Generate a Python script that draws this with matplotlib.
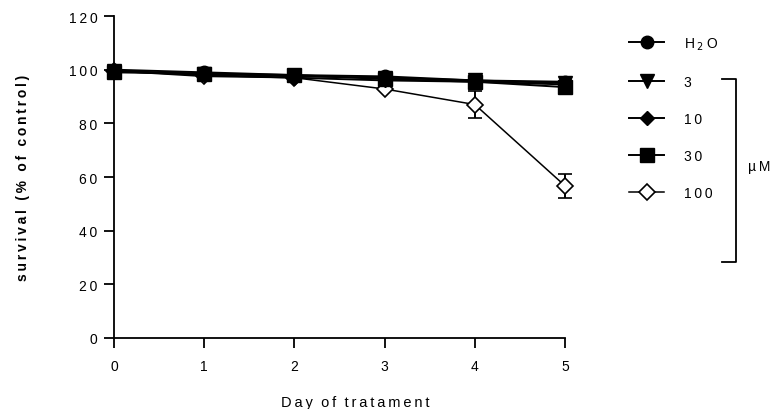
import matplotlib
matplotlib.use("Agg")
import matplotlib.pyplot as plt
from matplotlib.lines import Line2D

plt.rcParams["font.family"] = ["Liberation Sans", "DejaVu Sans"]

days = [0, 1, 2, 3, 4, 5]
labels = ["H\u2009$_2$\u2009O", "3", "10", "30", "100"]
h2o = [100, 99, 98, 97.5, 96, 95.5]
c3 = [99.5, 98.5, 97.5, 97, 96, 95]
c10 = [99.5, 98, 97, 96, 95.5, 94.5]
c30 = [99, 98.5, 98, 96.5, 95.5, 93.5]
c100 = [99.5, 97.5, 97, 92.8, 87, 56.7]
c100_err = [0, 0, 0, 0, 4.9, 4.6]


def spaced(s):
    return "\u2009".join(s)


fig = plt.figure(figsize=(7.71, 4.10), dpi=100)
ax = fig.add_axes([0.1479, 0.1732, 0.585, 0.7853])

lw = 1.4
h1, = ax.plot(days, h2o, color="black", marker="o", markersize=9, lw=lw, clip_on=False, zorder=5)
h2, = ax.plot(days, c3, color="black", marker="v", markersize=10, lw=lw, clip_on=False, zorder=4)
h3, = ax.plot(days, c10, color="black", marker="D", markersize=7.5, lw=lw, clip_on=False, zorder=4)
h4, = ax.plot(days, c30, color="black", marker="s", markersize=9.5, lw=lw, clip_on=False, zorder=6)
eb = ax.errorbar(days, c100, yerr=c100_err, color="black", marker="D", markersize=8,
                 markerfacecolor="white", markeredgewidth=1.2, lw=1.1, capsize=5,
                 capthick=1.4, elinewidth=1.4, clip_on=False, zorder=3)
h5 = eb.lines[0]

ax.set_xlim(0, 5)
ax.set_ylim(0, 120)
ax.set_xticks(days)
ax.set_xticklabels([spaced(str(d)) for d in days])
ax.set_yticks(range(0, 121, 20))
ax.set_yticklabels([spaced(str(v)) for v in range(0, 121, 20)])
for s in ["top", "right"]:
    ax.spines[s].set_visible(False)
for s in ["left", "bottom"]:
    ax.spines[s].set_linewidth(1.3)
ax.tick_params(direction="out", length=7, width=1.3, labelsize=10, pad=5)
ax.tick_params(axis="x", pad=8)

ax.set_xlabel(spaced("Day of tratament").replace("\u2009 \u2009", "  "), fontsize=10.5)
ax.xaxis.set_label_coords(0.534, -0.176)
ax.set_ylabel(spaced("survival (% of control)"), fontsize=10, fontweight="bold")
ax.yaxis.set_label_coords(-0.186, 0.5)

leg = ax.legend([h1, h2, h3, h4, h5], [spaced(l) if "$" not in l else l for l in labels],
                loc="upper left", bbox_to_anchor=(1.115, 0.979),
                frameon=False, fontsize=10, handlelength=2.5, handletextpad=1.4,
                labelspacing=1.66)

# bracket for the µM doses
fig.add_artist(Line2D([0.937, 0.954, 0.954, 0.937], [0.805, 0.805, 0.358, 0.358],
                      transform=fig.transFigure, color="black", lw=1.3))
fig.text(0.97, 0.593, "\u00b5\u2009M", fontsize=10, va="center", ha="left")

fig.savefig("out.png", dpi=100)
